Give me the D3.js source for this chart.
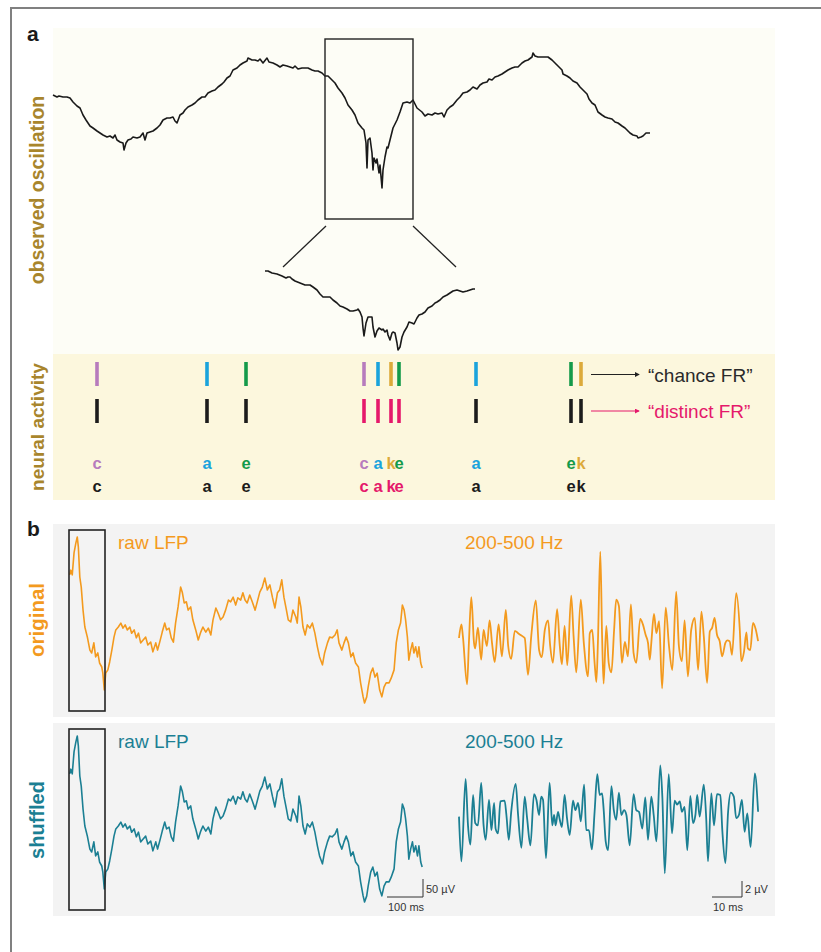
<!DOCTYPE html>
<html>
<head>
<meta charset="utf-8">
<script src="https://cdn.jsdelivr.net/npm/d3@7"></script>
<style>
  html, body { margin: 0; padding: 0; background: #ffffff; }
  svg { display: block; font-family: "Liberation Sans", Arial, sans-serif; }
</style>
</head>
<body>
<svg id="fig" width="821" height="952"></svg>
<script>
// ---- observed oscillation (panel a), time in a.u., amplitude in a.u. ----
const observedTrace = [
  [0,45],[4,43],[6,44],[10,43],[14,43],[17,42],[20,38],[24,34],[27,32],[30,25],[33,20],[35,17],[37,14],[40,12],
  [44,9],[47,7],[50,5],[54,3],[57,4],[60,2],[62,5],[64,0],[67,-2],[70,-3],[71,-10],[73,-3],[75,0],[78,1],[80,3],
  [84,2],[87,3],[90,7],[92,0],[94,7],[97,8],[100,9],[104,12],[107,15],[110,20],[114,22],[117,22],[120,23],[122,19],
  [124,17],[127,25],[130,27],[132,30],[135,33],[139,35],[142,37],[145,40],[149,43],[152,43],[155,47],[159,49],
  [162,50],[165,53],[169,56],[171,58],[174,62],[177,64],[180,70],[184,72],[187,75],[190,77],[194,79],[195,82],
  [199,80],[202,80],[205,79],[207,81],[210,77],[214,82],[216,78],[220,77],[224,75],[227,73],[230,75],[234,74],
  [237,73],[240,72],[242,74],[245,71],[249,72],[252,72],[255,72],[259,70],[262,69],[265,69],[269,67],[272,64],
  [275,64],[279,60],[282,57],[285,52],[289,47],[292,42],[295,35],[299,30],[302,25],[305,17],[309,12],[311,10],
  [313,-3],[314,-28],[315,0],[317,2],[319,-13],[320,-30],[321,-18],[323,-23],[324,-19],[326,-33],[327,-25],
  [329,-48],[330,-30],[332,-17],[334,-7],[335,-8],[337,0],[340,12],[344,20],[347,28],[350,37],[354,38],[357,37],
  [360,40],[364,32],[369,28],[372,24],[375,26],[379,25],[382,27],[385,26],[389,27],[391,23],[394,30],[397,33],
  [400,35],[404,40],[407,43],[410,47],[414,48],[417,50],[420,53],[424,51],[427,55],[430,57],[434,58],[436,61],
  [439,60],[442,63],[445,64],[449,66],[452,68],[455,70],[459,72],[462,73],[465,73],[469,77],[472,79],[475,80],
  [479,83],[480,87],[482,84],[485,83],[489,83],[492,83],[495,83],[499,80],[502,77],[505,74],[509,70],[510,66],
  [514,64],[517,62],[520,59],[524,57],[527,53],[530,50],[534,46],[536,41],[539,37],[542,35],[545,28],[549,25],
  [552,23],[555,22],[559,21],[562,18],[565,17],[569,14],[572,12],[574,10],[577,7],[580,5],[584,4],[585,2],
  [588,3],[590,4],[593,7],[595,7],[597,7]
];
// window of the observed trace that is magnified below it
const zoomWindow = [272, 360];

// magnified segment of the sharp-wave
const zoomTrace = [
  [0,29],[3,29],[7,27],[12,26],[17,24],[21,22],[23,23],[25,23],[27,21],[30,19],[35,17],[40,15],[45,15],[48,13],
  [52,10],[55,6],[58,3],[62,3],[65,3],[68,0],[72,-3],[75,-6],[78,-7],[82,-9],[85,-11],[88,-11],[92,-10],[93,-9],
  [95,-12],[97,-17],[98,-28],[99,-36],[101,-23],[103,-17],[105,-17],[107,-17],[108,-27],[110,-37],[112,-31],
  [114,-28],[117,-30],[118,-29],[120,-32],[122,-30],[123,-35],[125,-40],[127,-33],[128,-32],[130,-33],[132,-43],
  [133,-50],[135,-47],[137,-37],[139,-32],[142,-27],[144,-22],[147,-23],[149,-24],[152,-18],[154,-15],[157,-14],
  [160,-12],[163,-8],[167,-6],[170,-3],[172,-2],[175,0],[178,3],[182,5],[185,7],[188,9],[192,10],[195,9],
  [198,8],[202,9],[205,10],[208,11],[210,11]
];

// spikes of four neurons (c, a, k, e) on the observed time axis
const spikeTimes   = [44, 154, 193, 311, 325, 338, 346, 423, 518, 528];
const spikeNeurons = ["c","a","e","c","a","k","e","a","e","k"];
const neuronIds    = ["c","a","e","k"];
const neuronColors = ["#b77bbd","#1aa3dc","#149a4a","#dcaa3a"];
const distinctWindow = [300, 350];
const rowLabels = ["\u201Cchance FR\u201D", "\u201Cdistinct FR\u201D"];

// ---- panel b: raw LFP (ms, \u00B5V) ----
const rawLFP = [
  [2,181],[5,194],[9,181],[14,242],[19,269],[23,286],[26,258],[30,175],[34,147],[39,83],[44,36],[51,8],[58,-28],
  [63,-36],[69,-8],[74,-47],[80,-36],[85,-64],[91,-75],[94,-92],[98,-139],[102,-92],[108,-83],[113,-61],[119,-28],
  [125,8],[130,28],[137,36],[144,47],[150,33],[156,42],[162,28],[169,36],[174,19],[181,28],[187,6],[193,19],
  [199,-8],[206,0],[213,8],[219,-14],[227,-6],[233,-33],[241,-8],[246,-28],[252,-6],[259,22],[266,47],[271,28],
  [278,33],[284,6],[290,-6],[296,47],[303,92],[310,147],[315,131],[320,103],[326,106],[331,83],[338,92],[344,56],
  [352,28],[359,0],[366,22],[372,36],[380,22],[387,33],[394,14],[400,56],[408,89],[414,75],[421,56],[428,64],
  [435,83],[443,111],[449,106],[456,119],[463,97],[469,117],[477,111],[483,131],[489,111],[495,103],[502,125],
  [509,106],[517,83],[523,106],[530,133],[537,147],[544,172],[551,139],[558,153],[565,119],[572,89],[579,131],
  [585,139],[591,167],[597,119],[604,83],[609,56],[616,50],[622,83],[630,64],[634,47],[639,119],[644,92],
  [650,36],[656,14],[662,42],[669,33],[676,47],[683,19],[690,-19],[696,-47],[704,-69],[710,-36],[718,-8],
  [724,8],[731,6],[739,14],[745,28],[750,-8],[758,-28],[764,-8],[770,8],[776,-8],[783,-47],[789,-36],[796,-64],
  [804,-75],[810,-119],[817,-158],[821,-175],[827,-158],[831,-131],[838,-92],[844,-78],[850,-103],[856,-92],
  [863,-139],[869,-158],[875,-131],[881,-119],[889,-119],[895,-106],[903,-83],[909,-8],[915,28],[921,47],
  [926,97],[931,83],[935,56],[940,8],[944,-56],[949,-28],[954,-8],[958,-36],[963,-19],[968,-47],[972,-19],
  [977,-64],[981,-78]
];
// first 100 ms of the raw trace, band-pass 200-500 Hz (ms, \u00B5V)
const hfOriginal = [
  [0,0],[0.8,1.7],[1.3,0.2],[2.7,-5.8],[3.3,-0.6],[4.1,5.1],[5.0,-0.6],[5.4,-1.3],[6.3,1.3],[7.4,-2.7],[8.2,1.0],
  [8.8,-0.2],[9.3,-1.0],[10.2,2.2],[11.0,-0.6],[11.9,-3.0],[13.2,1.7],[14.3,-2.3],[15.6,3.5],[16.4,-1.0],
  [17.4,-2.6],[18.6,0.9],[19.7,0.6],[20.8,0.3],[21.9,0],[23.0,-4.6],[24.1,0.3],[25.6,4.7],[26.7,-1.5],[27.6,-2.4],
  [28.6,1.0],[29.7,2.2],[30.4,-1.0],[31.3,-3.1],[32.7,3.6],[33.6,-1.0],[34.3,-3.3],[35.2,1.5],[36.1,-3.4],
  [37.4,5.3],[38.2,0.2],[39.1,-4.3],[40.6,4.8],[41.6,-0.6],[43.0,-4.8],[43.6,0.6],[44.4,1.0],[45.2,-3.1],
  [45.8,-5.5],[46.3,-0.6],[47.1,10.8],[47.7,0.2],[48.2,-5.7],[49.1,1.5],[49.9,-3.1],[50.8,-4.3],[51.7,1.0],
  [52.4,4.8],[53.3,4.0],[54.3,-3.1],[55.3,-0.5],[56.3,-2.3],[57.3,4.2],[58.2,-1.9],[59.1,-3.1],[60.4,2.4],
  [61.3,1.7],[62.2,0.4],[63.0,-0.6],[63.6,-2.7],[64.1,-0.6],[65.0,3.0],[65.8,0.6],[66.7,2.1],[67.7,-6.3],
  [68.9,3.8],[70.0,-1.0],[71.1,-4.0],[72.4,5.8],[73.3,-1.0],[74.3,-2.9],[75.2,2.2],[76.3,-4.8],[77.4,1.0],
  [78.6,2.5],[79.7,-4.0],[80.8,3.3],[81.6,0.2],[82.7,-5.6],[83.6,0.8],[84.4,1.3],[85.2,2.5],[86.0,0.4],
  [86.9,-0.4],[87.7,-2.3],[88.8,-0.6],[89.4,-0.3],[90.2,-0.4],[91.0,-2.1],[92.4,5.6],[93.6,1.0],[94.1,-2.9],
  [95.0,-1.7],[95.8,0.7],[96.3,-1.3],[97.1,-1.5],[98.0,1.9],[98.9,1.1],[99.7,-0.4]
];
const hfShuffled = [
  [0,-0.2],[0.8,-5.8],[2.2,4.5],[3.0,-1.3],[3.8,-3.7],[4.7,2.5],[5.4,-1.0],[6.3,-1.3],[7.4,4.0],[8.2,-1.3],
  [8.9,-3.1],[10.0,1.9],[10.8,-1.9],[11.7,1.5],[12.2,-1.7],[13.0,-2.3],[13.8,1.7],[15.2,1.8],[15.8,0],[16.6,-3.1],
  [17.4,0.4],[18.9,3.9],[19.7,0],[20.8,-4.1],[21.9,2.3],[22.7,-0.4],[23.8,-3.8],[25.0,2.6],[25.8,1.9],[26.7,0],
  [27.4,2.3],[28.0,1.9],[29.0,-5.4],[30.2,4.0],[31.1,-1.3],[31.7,0],[32.2,-1.3],[33.0,0.4],[33.6,-0.6],
  [34.3,-1.5],[35.2,2.5],[36.0,-0.4],[36.9,-2.5],[38.0,1.8],[38.8,0.6],[39.7,1.5],[40.6,-0.8],[41.7,3.8],
  [42.4,-1.9],[43.3,-1.9],[44.3,-4.3],[45.2,0.4],[46.1,5.1],[46.9,2.5],[47.7,2.7],[48.2,0.8],[48.9,-3.3],
  [49.7,-4.4],[50.8,3.6],[51.6,0.6],[52.4,-0.6],[53.3,2.8],[54.1,0],[55.0,0.6],[55.8,0],[56.9,-3.8],[58.2,2.6],
  [59.1,0.6],[60.0,0.4],[61.1,-1.7],[62.1,2.2],[63.0,-3.1],[64.1,2.3],[64.9,0],[65.8,-3.3],[67.1,6.2],[67.8,2.1],
  [68.6,-7.3],[69.9,5.1],[71.0,-2.3],[71.9,1.8],[72.7,1.3],[73.6,1.7],[74.3,0.4],[75.2,1.0],[76.1,-4.4],
  [77.1,2.4],[78.0,-1.0],[78.8,0],[79.4,2.5],[80.2,-0.2],[81.6,3.8],[82.4,-0.4],[83.0,-5.8],[84.1,2.7],
  [85.0,-1.3],[86.0,2.6],[87.1,2.5],[87.8,-2.1],[88.8,-6.0],[89.7,0.4],[90.6,2.8],[91.6,2.3],[92.4,-0.4],
  [93.3,0],[94.3,1.9],[95.2,-2.1],[96.1,0.2],[97.2,-4.0],[98.6,5.2],[99.7,0.4]
];
const bRows = ["original", "shuffled"];
const bColors = ["#f39a1e", "#1b7f93"];
const scaleRaw = { ms: 100, uV: 50 };
const scaleHF = { ms: 10, uV: 2 };

// ---------------------------------------------------------------
const svg = d3.select("#fig");
const gold = "#a8852c";
const ink = "#1a1a1a";
const pink = "#e5196b";

// outer frame (left and top edges)
svg.append("path").attr("d", "M11,952V8H821")
  .attr("fill", "none").attr("stroke", "#808080").attr("stroke-width", 2);

// panel backgrounds
svg.append("rect").attr("x", 53).attr("y", 28).attr("width", 722).attr("height", 326).attr("fill", "#fdfdf6");
svg.append("rect").attr("x", 53).attr("y", 354).attr("width", 722).attr("height", 146).attr("fill", "#fcf7dd");
svg.append("rect").attr("x", 53).attr("y", 524).attr("width", 722).attr("height", 193).attr("fill", "#f3f3f3");
svg.append("rect").attr("x", 53).attr("y", 723).attr("width", 722).attr("height", 193).attr("fill", "#f3f3f3");

// panel letters
svg.append("text").attr("x", 27).attr("y", 41).text("a")
  .attr("font-size", 21).attr("font-weight", "bold").attr("fill", ink);
svg.append("text").attr("x", 27).attr("y", 536).text("b")
  .attr("font-size", 21).attr("font-weight", "bold").attr("fill", ink);

function sideLabel(text, cy, color, size) {
  svg.append("text").attr("transform", `translate(44,${cy}) rotate(-90)`)
    .attr("text-anchor", "middle").attr("font-size", size).attr("font-weight", "bold")
    .attr("fill", color).text(text);
}
sideLabel("observed oscillation", 190, gold, 19.5);
sideLabel("neural activity", 427, gold, 19);
sideLabel(bRows[0], 620, bColors[0], 20.5);
sideLabel(bRows[1], 820, bColors[1], 20);

// ---- panel a: observed oscillation ----
const xObs = d3.scaleLinear().domain([0, 597]).range([53, 650]);
const yObs = d3.scaleLinear().domain([0, 100]).range([140, 40]);
svg.append("path").datum(observedTrace)
  .attr("d", d3.line().x(d => xObs(d[0])).y(d => yObs(d[1])))
  .attr("fill", "none").attr("stroke", ink).attr("stroke-width", 1.6).attr("stroke-linejoin", "round");

const bx0 = xObs(zoomWindow[0]), bx1 = xObs(zoomWindow[1]);
svg.append("rect").attr("x", bx0).attr("y", 39).attr("width", bx1 - bx0).attr("height", 180)
  .attr("fill", "none").attr("stroke", "#222").attr("stroke-width", 1.4);

const xZoom = d3.scaleLinear().domain([0, 210]).range([265, 475]);
const yZoom = d3.scaleLinear().domain([0, 50]).range([300, 250]);
svg.append("line").attr("x1", bx0 + 1).attr("y1", 226).attr("x2", 283).attr("y2", 267)
  .attr("stroke", "#222").attr("stroke-width", 1.3);
svg.append("line").attr("x1", bx1).attr("y1", 226).attr("x2", 456).attr("y2", 267)
  .attr("stroke", "#222").attr("stroke-width", 1.3);
svg.append("path").datum(zoomTrace)
  .attr("d", d3.line().x(d => xZoom(d[0])).y(d => yZoom(d[1])))
  .attr("fill", "none").attr("stroke", ink).attr("stroke-width", 1.6).attr("stroke-linejoin", "round");

// ---- neural activity ----
const colorOf = n => neuronColors[neuronIds.indexOf(n)];
const inDistinct = t => t >= distinctWindow[0] && t <= distinctWindow[1];
const spikes = spikeTimes.map((t, i) => ({ t, n: spikeNeurons[i] }));

const rows = [
  { y0: 362, y1: 386, color: d => colorOf(d.n) },
  { y0: 399, y1: 423, color: d => inDistinct(d.t) ? pink : "#1c1c1c" }
];
rows.forEach(r => {
  svg.append("g").selectAll("line").data(spikes).join("line")
    .attr("x1", d => xObs(d.t)).attr("x2", d => xObs(d.t))
    .attr("y1", r.y0).attr("y2", r.y1)
    .attr("stroke", r.color).attr("stroke-width", 3.6);
});
[{ y: 469, row: rows[0] }, { y: 492, row: rows[1] }].forEach(L => {
  svg.append("g").selectAll("text").data(spikes).join("text")
    .attr("x", d => xObs(d.t)).attr("y", L.y).attr("text-anchor", "middle")
    .attr("font-size", 16.5).attr("font-weight", "bold")
    .attr("fill", L.row.color).text(d => d.n);
});

// arrows to the row annotations
const defs = svg.append("defs");
[["arrBlack", "#222"], ["arrPink", pink]].forEach(([id, c]) => {
  defs.append("marker").attr("id", id).attr("viewBox", "0 0 6 6").attr("refX", 5).attr("refY", 3)
    .attr("markerWidth", 5).attr("markerHeight", 5).attr("orient", "auto")
    .append("path").attr("d", "M0,0L6,3L0,6Z").attr("fill", c);
});
svg.append("line").attr("x1", 591).attr("x2", 639).attr("y1", 374.5).attr("y2", 374.5)
  .attr("stroke", "#222").attr("stroke-width", 1).attr("marker-end", "url(#arrBlack)");
svg.append("line").attr("x1", 591).attr("x2", 639).attr("y1", 411).attr("y2", 411)
  .attr("stroke", pink).attr("stroke-width", 1).attr("marker-end", "url(#arrPink)");
svg.append("text").attr("x", 648).attr("y", 382).attr("font-size", 19).attr("fill", "#2a2a2a").text(rowLabels[0]);
svg.append("text").attr("x", 648).attr("y", 418).attr("font-size", 19).attr("fill", pink).text(rowLabels[1]);

// ---- panel b ----
const xRaw = d3.scaleLinear().domain([0, 1000]).range([69, 429]);
const xHF = d3.scaleLinear().domain([0, 100]).range([459, 759]);
const rawBase = [640, 839];
const hfBase = [638, 815];
const boxTop = [530, 729];
const textBase = [549, 748];
const hfData = [hfOriginal, hfShuffled];

bRows.forEach((name, i) => {
  const col = bColors[i];
  const yRaw = d3.scaleLinear().domain([0, 100]).range([rawBase[i], rawBase[i] - 36]);
  const yHF = d3.scaleLinear().domain([0, 1]).range([hfBase[i], hfBase[i] - 8]);

  svg.append("path").datum(rawLFP)
    .attr("d", d3.line().x(d => xRaw(d[0])).y(d => yRaw(d[1])))
    .attr("fill", "none").attr("stroke", col).attr("stroke-width", 1.6).attr("stroke-linejoin", "round");

  svg.append("rect").attr("x", xRaw(0)).attr("y", boxTop[i])
    .attr("width", xRaw(100) - xRaw(0)).attr("height", 181)
    .attr("fill", "none").attr("stroke", "#222").attr("stroke-width", 1.6);

  svg.append("path").datum(hfData[i])
    .attr("d", d3.line().curve(d3.curveMonotoneX).x(d => xHF(d[0])).y(d => yHF(d[1])))
    .attr("fill", "none").attr("stroke", col).attr("stroke-width", 1.8).attr("stroke-linejoin", "round");

  svg.append("text").attr("x", 118).attr("y", textBase[i]).attr("font-size", 19).attr("fill", col).text("raw LFP");
  svg.append("text").attr("x", 465).attr("y", textBase[i]).attr("font-size", 19).attr("fill", col).text("200-500 Hz");
});

// scale bars
function scaleBar(x1, yB, w, h, vLabel, hLabel) {
  svg.append("path").attr("d", `M${x1 - w},${yB}H${x1}V${yB - h}`)
    .attr("fill", "none").attr("stroke", "#333").attr("stroke-width", 1);
  svg.append("text").attr("x", x1 + 3).attr("y", yB - 4).attr("font-size", 11).attr("fill", "#333").text(vLabel);
  svg.append("text").attr("x", x1 - w + 1).attr("y", yB + 14).attr("font-size", 11).attr("fill", "#333").text(hLabel);
}
const yRawShuf = d3.scaleLinear().domain([0, 100]).range([rawBase[1], rawBase[1] - 36]);
scaleBar(423, 897, xRaw(scaleRaw.ms) - xRaw(0), yRawShuf(0) - yRawShuf(scaleRaw.uV),
  scaleRaw.uV + " \u00B5V", scaleRaw.ms + " ms");
scaleBar(742, 897, xHF(scaleHF.ms) - xHF(0), scaleHF.uV * 8,
  scaleHF.uV + " \u00B5V", scaleHF.ms + " ms");
</script>
</body>
</html>
